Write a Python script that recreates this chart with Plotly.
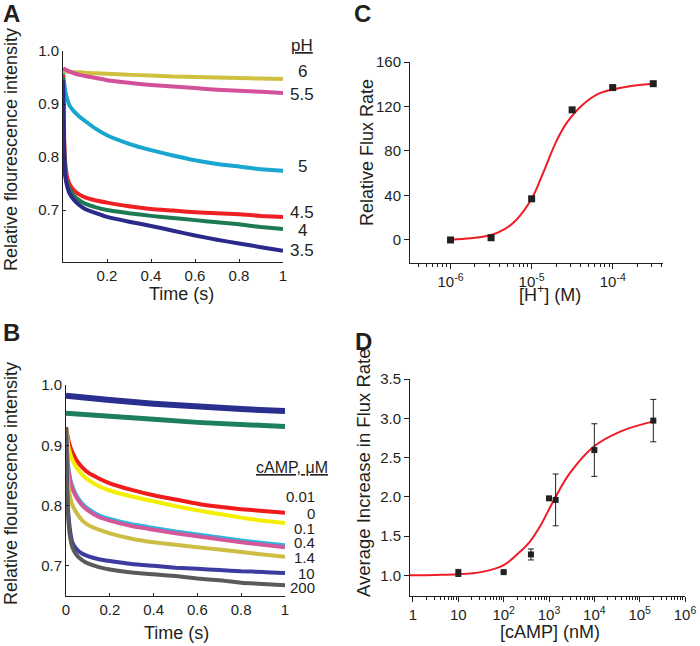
import plotly.graph_objects as go

W, H = 700, 646
FONT = "Arial, Liberation Sans, sans-serif"
INK = "#231f20"

# ---------------- Panel A: pH traces ----------------
t_a = [0, 0.005, 0.01, 0.02, 0.03, 0.05, 0.075, 0.1, 0.15, 0.2, 0.3, 0.4, 0.5, 0.6, 0.7, 0.8, 0.9, 1.0]
ph_labels = ["6", "5.5", "5", "4.5", "4", "3.5"]
ph_6 = [0.962, 0.962, 0.961, 0.961, 0.961, 0.960, 0.960, 0.959, 0.958, 0.957, 0.955, 0.954, 0.952, 0.951, 0.950, 0.949, 0.948, 0.947]
ph_5_5 = [0.968, 0.966, 0.965, 0.963, 0.961, 0.958, 0.955, 0.953, 0.949, 0.945, 0.940, 0.936, 0.933, 0.930, 0.927, 0.925, 0.923, 0.921]
ph_5 = [0.958, 0.940, 0.925, 0.908, 0.897, 0.886, 0.876, 0.868, 0.853, 0.841, 0.825, 0.813, 0.803, 0.794, 0.787, 0.782, 0.777, 0.774]
ph_4_5 = [0.955, 0.840, 0.790, 0.760, 0.749, 0.737, 0.729, 0.724, 0.718, 0.714, 0.707, 0.702, 0.699, 0.696, 0.694, 0.692, 0.689, 0.687]
ph_4 = [0.950, 0.820, 0.770, 0.748, 0.739, 0.727, 0.718, 0.712, 0.705, 0.700, 0.694, 0.689, 0.685, 0.681, 0.677, 0.673, 0.668, 0.664]
ph_3_5 = [0.945, 0.810, 0.765, 0.743, 0.731, 0.719, 0.709, 0.702, 0.694, 0.687, 0.678, 0.670, 0.661, 0.652, 0.644, 0.637, 0.630, 0.623]
ph_series = [ph_6, ph_5_5, ph_5, ph_4_5, ph_4, ph_3_5]
ph_colors = ["#cfc040", "#d2519a", "#19a6d0", "#ee2024", "#1e7a52", "#2b2a8a"]
ph_label_y = [71, 94, 166, 212, 230, 250]

# ---------------- Panel B: cAMP traces ----------------
t_b = [0, 0.005, 0.01, 0.02, 0.03, 0.05, 0.075, 0.1, 0.15, 0.2, 0.3, 0.4, 0.5, 0.6, 0.7, 0.8, 0.9, 1.0]
t_b_flat = [0, 0.1, 0.2, 0.4, 0.6, 0.8, 1.0]
b_navy = [0.982, 0.978, 0.975, 0.969, 0.964, 0.960, 0.957]
b_green = [0.953, 0.951, 0.948, 0.943, 0.938, 0.934, 0.931]
camp_labels = ["0.01", "0", "0.1", "0.4", "1.4", "10", "200"]
camp_0_01 = [0.930, 0.920, 0.910, 0.897, 0.888, 0.874, 0.863, 0.855, 0.845, 0.837, 0.826, 0.817, 0.810, 0.803, 0.798, 0.794, 0.791, 0.788]
camp_0 = [0.930, 0.915, 0.900, 0.885, 0.875, 0.862, 0.851, 0.843, 0.832, 0.825, 0.815, 0.807, 0.799, 0.792, 0.786, 0.780, 0.775, 0.771]
camp_0_1 = [0.930, 0.888, 0.865, 0.843, 0.831, 0.815, 0.803, 0.795, 0.784, 0.778, 0.769, 0.763, 0.757, 0.752, 0.747, 0.742, 0.738, 0.734]
camp_0_4 = [0.930, 0.885, 0.862, 0.840, 0.828, 0.812, 0.800, 0.792, 0.781, 0.775, 0.766, 0.760, 0.754, 0.749, 0.744, 0.739, 0.735, 0.731]
camp_1_4 = [0.930, 0.860, 0.835, 0.812, 0.800, 0.787, 0.775, 0.768, 0.760, 0.754, 0.745, 0.739, 0.735, 0.731, 0.727, 0.723, 0.719, 0.715]
camp_10 = [0.930, 0.830, 0.790, 0.755, 0.738, 0.727, 0.720, 0.716, 0.711, 0.708, 0.703, 0.700, 0.697, 0.695, 0.693, 0.691, 0.690, 0.688]
camp_200 = [0.930, 0.820, 0.780, 0.745, 0.730, 0.717, 0.709, 0.704, 0.698, 0.694, 0.689, 0.686, 0.683, 0.679, 0.676, 0.672, 0.670, 0.668]
camp_series = [camp_0_01, camp_0, camp_0_1, camp_0_4, camp_1_4, camp_10, camp_200]
camp_colors = ["#f11b1b", "#f4ee00", "#29b6e0", "#d2589a", "#cdbd45", "#3c3ca0", "#5a5a5a"]
camp_label_y = [496, 513, 528, 542, 557, 573, 587]

# ---------------- Panel C: flux vs [H+] ----------------
c_h = [1e-6, 3.16e-6, 1e-5, 3.16e-5, 1e-4, 3.16e-4]
c_rate = [0, 2, 37, 117, 137, 140.5]
c_fit_log_h = [-6.0, -5.75, -5.5, -5.35, -5.19, -5.0, -4.86, -4.70, -4.57, -4.37, -4.16, -3.75, -3.5]
c_fit_rate = [0.3, 1.5, 4.5, 9, 18, 37, 60, 88, 105, 121.6, 132, 138.7, 140.5]

# ---------------- Panel D: flux increase vs cAMP ----------------
d_camp = [10, 100, 400, 1000, 1400, 10000, 200000]
d_incr = [1.03, 1.04, 1.265, 1.98, 1.96, 2.595, 2.97]
d_err = [0.045, 0, 0.07, 0, 0.33, 0.335, 0.27]
d_fit_log_c = [-0.066, 0.5, 1, 1.5, 2, 2.36, 2.58, 2.8, 3.11, 3.46, 3.99, 4.57, 5.3]
d_fit_incr = [1.0, 1.004, 1.012, 1.04, 1.13, 1.30, 1.43, 1.62, 1.96, 2.30, 2.64, 2.83, 2.96]


def px(x):
    return x / W


def py(y):
    return 1 - y / H


fig = go.Figure()

for vals, col in zip(ph_series, ph_colors):
    fig.add_trace(go.Scatter(x=t_a, y=vals, mode="lines", xaxis="x", yaxis="y",
                             line=dict(color=col, width=4, shape="spline", smoothing=0.5),
                             showlegend=False, hoverinfo="skip"))

fig.add_trace(go.Scatter(x=t_b_flat, y=b_navy, mode="lines", xaxis="x2", yaxis="y2",
                         line=dict(color="#2a2f8f", width=6), showlegend=False))
fig.add_trace(go.Scatter(x=t_b_flat, y=b_green, mode="lines", xaxis="x2", yaxis="y2",
                         line=dict(color="#1d7f5f", width=5), showlegend=False))
for vals, col in zip(camp_series, camp_colors):
    fig.add_trace(go.Scatter(x=t_b, y=vals, mode="lines", xaxis="x2", yaxis="y2",
                             line=dict(color=col, width=4, shape="spline", smoothing=0.5),
                             showlegend=False))

fig.add_trace(go.Scatter(x=[10 ** e for e in c_fit_log_h], y=c_fit_rate, mode="lines",
                         xaxis="x3", yaxis="y3",
                         line=dict(color="#ee1c24", width=2, shape="spline"), showlegend=False))
fig.add_trace(go.Scatter(x=c_h, y=c_rate, mode="markers", xaxis="x3", yaxis="y3",
                         marker=dict(symbol="square", size=7, color=INK), showlegend=False))

fig.add_trace(go.Scatter(x=[10 ** e for e in d_fit_log_c], y=d_fit_incr, mode="lines",
                         xaxis="x4", yaxis="y4",
                         line=dict(color="#ee1c24", width=2, shape="spline"), showlegend=False))
fig.add_trace(go.Scatter(x=d_camp, y=d_incr, mode="markers", xaxis="x4", yaxis="y4",
                         marker=dict(symbol="square", size=6, color=INK),
                         error_y=dict(type="data", array=d_err, color=INK, thickness=1, width=3),
                         showlegend=False))

axis_common = dict(showline=True, linecolor=INK, linewidth=1, showgrid=False, zeroline=False,
                   automargin=False,
                   tickfont=dict(family=FONT, size=15, color=INK), tickcolor=INK)

c_minor = [m * 10 ** d for d in (-7, -6, -5, -4) for m in range(2, 10)]
d_minor = [m * 10 ** d for d in range(0, 6) for m in range(2, 10)]

fig.update_layout(
    width=W, height=H, margin=dict(l=0, r=0, t=0, b=0, pad=0, autoexpand=False),
    paper_bgcolor="white", plot_bgcolor="white", showlegend=False,
    font=dict(family=FONT, color=INK),
    xaxis=dict(domain=[px(63), px(283)], range=[0, 1], anchor="y",
               tickvals=[0.2, 0.4, 0.6, 0.8, 1.0], ticktext=["0.2", "0.4", "0.6", "0.8", "1"],
               ticks="inside", ticklen=3, **axis_common),
    yaxis=dict(domain=[py(262), py(51)], range=[0.602, 1.0], anchor="x",
               tickvals=[0.7, 0.8, 0.9, 1.0], ticktext=["0.7", "0.8", "0.9", "1.0"],
               ticks="inside", ticklen=3, **axis_common),
    xaxis2=dict(domain=[px(66), px(285)], range=[0, 1], anchor="y2",
                tickvals=[0, 0.2, 0.4, 0.6, 0.8, 1.0], ticktext=["0", "0.2", "0.4", "0.6", "0.8", "1"],
                ticks="inside", ticklen=3, **axis_common),
    yaxis2=dict(domain=[py(596), py(385)], range=[0.65, 1.0], anchor="x2",
                tickvals=[0.7, 0.8, 0.9, 1.0], ticktext=["0.7", "0.8", "0.9", "1.0"],
                ticks="inside", ticklen=3, **axis_common),
    xaxis3=dict(domain=[px(410), px(663)], type="log", range=[-6.5, -3.38], anchor="y3",
                tickvals=[1e-6, 1e-5, 1e-4],
                ticktext=["10<sup>-6</sup>", "10<sup>-5</sup>", "10<sup>-4</sup>"],
                ticks="outside", ticklen=5,
                minor=dict(tickvals=c_minor, ticks="outside", ticklen=3, tickcolor=INK, showgrid=False),
                **axis_common),
    yaxis3=dict(domain=[py(263), py(62)], range=[-20.7, 160], anchor="x3",
                tickvals=[0, 40, 80, 120, 160], ticks="outside", ticklen=5, **axis_common),
    xaxis4=dict(domain=[px(410), px(685)], type="log", range=[-0.066, 6], anchor="y4",
                tickvals=[1, 10, 100, 1e3, 1e4, 1e5, 1e6],
                ticktext=["1", "10", "10<sup>2</sup>", "10<sup>3</sup>", "10<sup>4</sup>",
                          "10<sup>5</sup>", "10<sup>6</sup>"],
                ticks="outside", ticklen=5,
                minor=dict(tickvals=d_minor, ticks="outside", ticklen=3, tickcolor=INK, showgrid=False),
                **axis_common),
    yaxis4=dict(domain=[py(596), py(379)], range=[0.736, 3.5], anchor="x4",
                tickvals=[1.0, 1.5, 2.0, 2.5, 3.0, 3.5],
                ticktext=["1.0", "1.5", "2.0", "2.5", "3.0", "3.5"],
                ticks="outside", ticklen=5, **axis_common),
)

ann = []


def add_text(text, x, y, size, xanchor="center", yanchor="middle", angle=0, bold=False):
    ann.append(dict(text=f"<b>{text}</b>" if bold else text, x=px(x), y=py(y),
                    xref="paper", yref="paper", showarrow=False, xanchor=xanchor,
                    yanchor=yanchor, textangle=angle, borderpad=0,
                    font=dict(family=FONT, size=size, color=INK)))


# panel letters
add_text("A", 11, 13, 24, bold=True)
add_text("B", 11, 332, 24, bold=True)
add_text("C", 362, 13, 24, bold=True)
add_text("D", 363, 341, 24, bold=True)

# axis titles
add_text("Relative flourescence intensity", 11, 150, 18, angle=-90)
add_text("Relative flourescence intensity", 11, 484, 18, angle=-90)
add_text("Relative Flux Rate", 367, 152, 18, angle=-90)
add_text("Average Increase in Flux Rate", 363, 473, 18.5, angle=-90)
add_text("Time (s)", 181, 294, 18)
add_text("Time (s)", 177, 633, 18)
add_text("[H<sup>+</sup>] (M)", 550, 294, 18)
add_text("[cAMP] (nM)", 550, 632, 18)

# pH labels
add_text("<u>pH</u>", 302, 45, 17)
for lab, yy in zip(ph_labels, ph_label_y):
    add_text(lab, 302, yy, 17)

# cAMP labels
add_text("<u>cAMP, μM</u>", 292, 467, 16)
for lab, yy in zip(camp_labels, camp_label_y):
    add_text(lab, 316, yy, 15, xanchor="right")

fig.update_layout(annotations=ann)

fig.write_html("out.html", config={"displayModeBar": False},
               post_script="document.body.style.margin='0';document.body.style.padding='0';")
